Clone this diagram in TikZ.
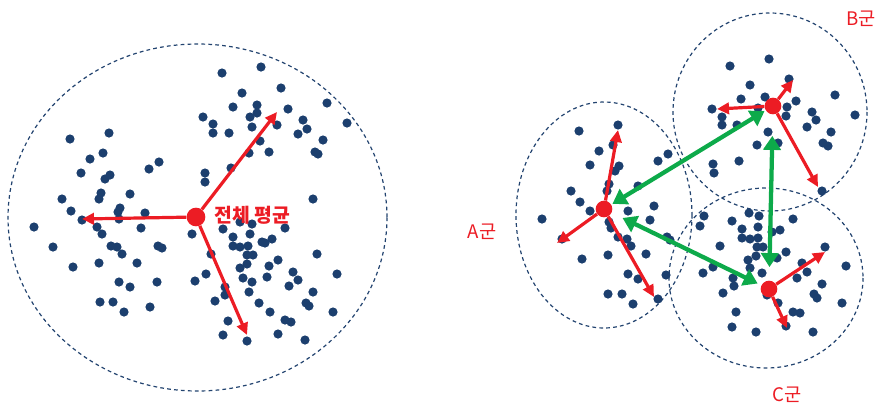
\documentclass[tikz,border=0pt]{standalone}
\usepackage{fontspec}
\setmainfont{Noto Sans CJK KR}
\usetikzlibrary{arrows.meta}
\definecolor{dotnavy}{HTML}{1C3F6E}
\definecolor{rimnavy}{HTML}{22436F}
\definecolor{meanred}{HTML}{EC1C24}
\definecolor{gapgreen}{HTML}{0DAA4A}

\begin{document}
\begin{tikzpicture}[x=0.75pt, y=-0.75pt,
  group/.style={draw=rimnavy, line width=0.9pt, dash pattern=on 2.8pt off 2.4pt},
  pt/.style={fill=dotnavy},
  mean/.style={circle, fill=meanred, inner sep=0pt, minimum size=12.5pt},
  spread/.style={draw=meanred, line width=2.4pt, -{Triangle[length=9pt,width=8.5pt]}},
  gap/.style={draw=gapgreen, line width=3.2pt,
    {Triangle[length=10.5pt,width=13pt]}-{Triangle[length=10.5pt,width=13pt]}},
  lbl/.style={text=meanred, font=\fontsize{14}{16}\selectfont, inner sep=0pt},
]
\useasboundingbox (0,0) rectangle (879,408);

% ===== groups =====
\draw[group] (197.5,217.5) ellipse [x radius=189.5, y radius=173.5];
\draw[group] (604,215) ellipse [x radius=88, y radius=113];
\draw[group] (770,112) ellipse [x radius=97, y radius=99];
\draw[group] (766,278) ellipse [x radius=97, y radius=90];

% ===== samples, whole set =====
\foreach \p in {(222,73),(261,67),(281,88),(242,93),(257,105),(233,107),(203,117),
  (250,117),(257,113),(288,109),(327,103),(347,123),(303,120),(307,129),(298,134),
  (323,140),(213,124),(213,133),(229,133),(252,127),(277,125),(260,141),(269,152),
  (249,153),(315,152),(318,154),(231,168),(205,173),(205,182),(313,199),(70,139),
  (109,133),(103,153),(90,159),(159,162),(149,169),(81,173),(110,175),(105,179),
  (62,199),(101,193),(99,199),(130,194),(71,211),(120,208),(118,212),(119,219),
  (145,213),(82,220),(34,227),(97,227),(102,234),(141,228),(192,234),(223,229),
  (240,222),(252,224),(250,234),(285,228),(233,237),(233,246),(240,247),(248,246),
  (262,242),(272,239),(265,243),(53,247),(111,246),(117,247),(122,254),(158,246),
  (162,248),(211,254),(247,255),(253,255),(317,254),(73,267),(99,263),(137,263),
  (240,268),(247,264),(269,266),(278,260),(243,278),(252,282),(267,277),(293,272),
  (298,280),(337,274),(195,281),(206,274),(119,282),(130,287),(157,282),(225,287),
  (225,295),(249,292),(289,286),(313,292),(100,302),(113,302),(124,312),(150,307),
  (215,301),(259,303),(270,312),(306,303),(309,306),(333,312),(228,321),(223,335),
  (247,341),(278,334),(285,320),(291,322),(305,340)}
  \fill[pt] \p circle [radius=4.6];

% ===== samples, groups A, B, C =====
\foreach \p in {(579,131),(618,125),(613,145),(599,151),(590,165),(619,166),(615,171),
  (658,161),(668,154),(571,191),(609,184),(607,191),(638,186),(580,202),(590,211),
  (628,211),(654,206),(542,219),(609,222),(611,228),(650,220),(562,239),(618,237),
  (627,239),(631,246),(667,237),(670,240),(582,259),(608,255),(646,254),(628,274),
  (638,279),(666,275),(608,294),(622,294),(658,299),(633,304)}
  \fill[pt] \p circle [radius=4.6];
\foreach \p in {(730,66),(769,59),(789,79),(750,85),(741,99),(765,97),(796,101),
  (835,95),(712,109),(758,108),(787,107),(722,117),(722,125),(737,125),(786,116),
  (812,112),(816,120),(807,127),(855,115),(768,132),(831,132),(757,145),(778,143),
  (823,143),(828,146),(713,164),(714,173),(739,161),(822,191)}
  \fill[pt] \p circle [radius=4.6];
\foreach \p in {(704,216),(700,226),(732,221),(749,213),(759,216),(758,227),(742,229),
  (742,238),(750,239),(758,238),(772,232),(780,230),(793,219),(720,246),(757,247),
  (763,247),(756,256),(748,260),(786,252),(777,258),(825,247),(846,266),(713,267),
  (703,273),(750,268),(762,273),(733,278),(734,286),(802,263),(807,272),(797,278),
  (822,284),(723,293),(814,294),(817,298),(767,295),(778,303),(842,303),(736,312),
  (793,312),(800,313),(732,327),(756,332),(786,326),(813,332)}
  \fill[pt] \p circle [radius=4.6];

% ===== spread around each mean =====
\node[mean, minimum size=14pt] (m0) at (196,217) {};
\coordinate (m0a) at (277,112);
\coordinate (m0b) at (82,219);
\coordinate (m0c) at (247,335);
\draw[spread] (m0) -- (m0a);
\draw[spread] (m0) -- (m0b);
\draw[spread] (m0) -- (m0c);

\node[mean] (mA) at (604,209) {};
\coordinate (mAa) at (618,130);
\coordinate (mAb) at (557,243);
\coordinate (mAc) at (654,297);
\draw[spread] (mA) -- (mAa);
\draw[spread] (mA) -- (mAb);
\draw[spread] (mA) -- (mAc);

\node[mean] (mB) at (773,106) {};
\coordinate (mBa) at (793,80);
\coordinate (mBb) at (717,109);
\coordinate (mBc) at (818,187);
\draw[spread] (mB) -- (mBa);
\draw[spread] (mB) -- (mBb);
\draw[spread] (mB) -- (mBc);

\node[mean] (mC) at (769,289) {};
\coordinate (mCa) at (825,252);
\coordinate (mCb) at (787,328);
\draw[spread] (mC) -- (mCa);
\draw[spread] (mC) -- (mCb);

% ===== between the means =====
\draw[gap, shorten <=1pt, shorten >=1pt] (mA) -- (mB);
\draw[gap, shorten <=16pt, shorten >=10pt] (mB) -- (mC);
\draw[gap, shorten <=9pt, shorten >=3pt] (mA) -- (mC);

% ===== labels =====
\node[lbl, anchor=west, font=\fontsize{14.5}{16}\selectfont\bfseries] (lall) at (214,215) {전체 평균};
\node[lbl] (lA) at (482,232) {A군};
\node[lbl] (lB) at (861,19) {B군};
\node[lbl] (lC) at (787,395) {C군};

\end{tikzpicture}
\end{document}
